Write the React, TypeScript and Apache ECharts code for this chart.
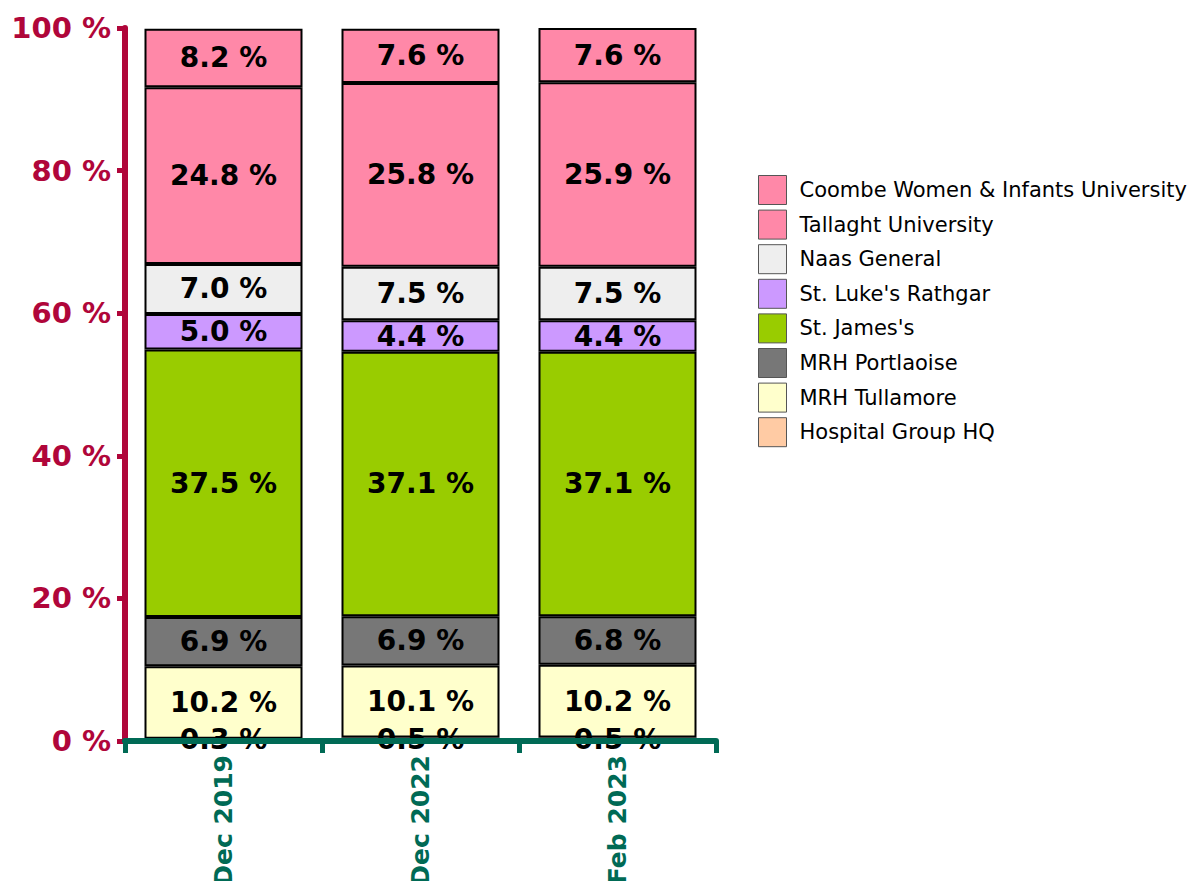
import React, { useEffect, useRef } from "react";
import * as echarts from "echarts";

const categories = ["Dec 2019", "Dec 2022", "Feb 2023"];
const seriesNames = [
  "Hospital Group HQ",
  "MRH Tullamore",
  "MRH Portlaoise",
  "St. James's",
  "St. Luke's Rathgar",
  "Naas General",
  "Tallaght University",
  "Coombe Women & Infants University",
];
const hqValues = [0.3, 0.5, 0.5];
const tullamoreValues = [10.2, 10.1, 10.2];
const portlaoiseValues = [6.9, 6.9, 6.8];
const jamesValues = [37.5, 37.1, 37.1];
const lukeValues = [5.0, 4.4, 4.4];
const naasValues = [7.0, 7.5, 7.5];
const tallaghtValues = [24.8, 25.8, 25.9];
const coombeValues = [8.2, 7.6, 7.6];
const seriesValues = [hqValues, tullamoreValues, portlaoiseValues, jamesValues, lukeValues, naasValues, tallaghtValues, coombeValues];
const colors = ["#FFCBA4", "#FFFFCC", "#777777", "#99CC00", "#CC99FF", "#EEEEEE", "#FF88A8", "#FF88A8"];
const yTicks = [0, 20, 40, 60, 80, 100];

const FONT = "DejaVu Sans";

export default function App() {
  const ref = useRef<HTMLDivElement>(null);
  useEffect(() => {
    if (!ref.current) return;
    const chart = echarts.init(ref.current, undefined, { renderer: "svg" });
    chart.setOption({
      animation: false,
      grid: { left: 125, right: 480, top: 28, bottom: 148, containLabel: false, outerBoundsMode: "none" },
      legend: {
        orient: "vertical",
        left: 753,
        top: 170,
        itemWidth: 28,
        itemHeight: 29,
        itemGap: 4.6,
        icon: "rect",
        data: [...seriesNames].reverse(),
        textStyle: { fontFamily: FONT, fontSize: 21, color: "#000", padding: [0, 0, 0, 8] },
        itemStyle: { borderColor: "#555", borderWidth: 1 },
      },
      xAxis: {
        type: "category",
        data: categories,
        z: 10,
        axisLine: { lineStyle: { color: "#006A55", width: 6 } },
        axisTick: { show: true, length: 12, lineStyle: { color: "#006A55", width: 5 } },
        axisLabel: {
          rotate: 90,
          color: "#006A55",
          fontFamily: FONT,
          fontSize: 25,
          fontWeight: "bold",
          margin: 14,
        },
      },
      yAxis: {
        type: "value",
        min: 0,
        max: 100,
        interval: 20,
        splitLine: { show: false },
        axisLine: { show: true, lineStyle: { color: "#B0063A", width: 6 } },
        axisTick: { show: true, length: 8, lineStyle: { color: "#B0063A", width: 5 } },
        axisLabel: {
          color: "#B0063A",
          fontFamily: FONT,
          fontSize: 29,
          fontWeight: "bold",
          margin: 14,
          formatter: (v: number) => (yTicks.includes(v) ? v + " %" : ""),
        },
      },
      series: seriesNames.map((name, i) => ({
        name,
        type: "bar",
        stack: "total",
        barWidth: 158,
        data: seriesValues[i],
        itemStyle: { color: colors[i], borderColor: "#000", borderWidth: 2 },
        label: {
          show: true,
          position: "inside",
          color: "#000",
          fontFamily: FONT,
          fontSize: 28,
          fontWeight: "bold",
          formatter: (p: any) => Number(p.value).toFixed(1) + " %",
        },
      })),
    });
    return () => chart.dispose();
  }, []);
  return <div ref={ref} style={{ width: 1196, height: 889, margin: -8 }} />;
}
